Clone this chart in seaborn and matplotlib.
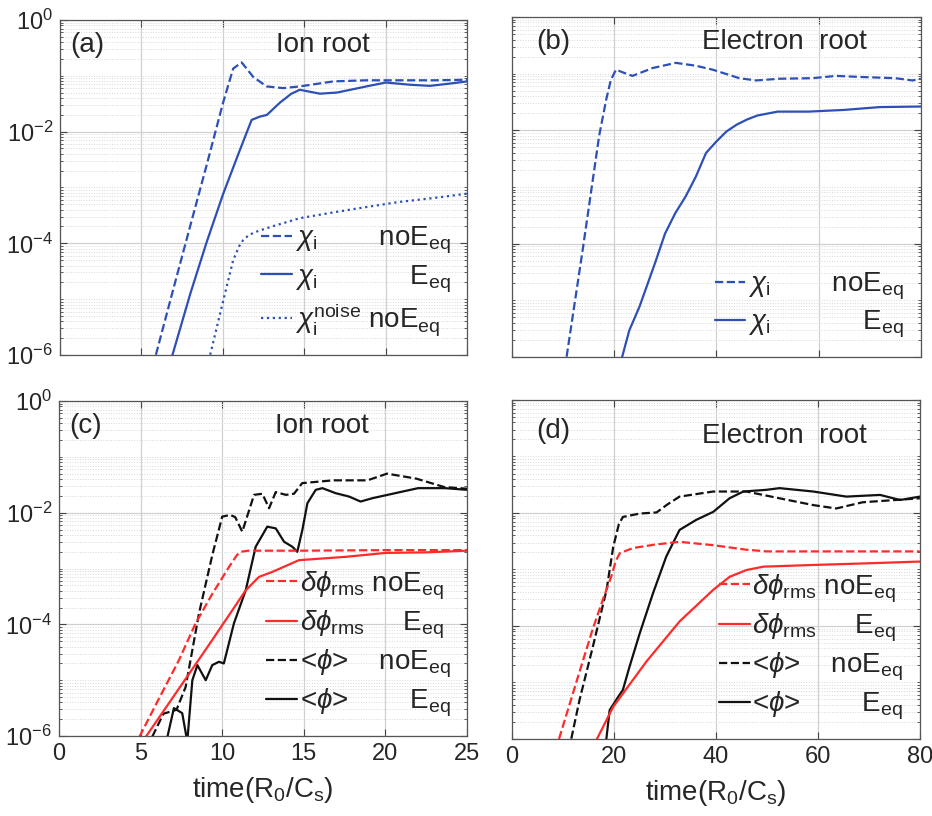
import numpy as np
import pandas as pd
import seaborn as sns
import matplotlib.pyplot as plt
from matplotlib.ticker import LogLocator, LogFormatterMathtext, NullFormatter

sns.set_theme(style="ticks")
plt.rcParams['font.family'] = ['Liberation Sans', 'DejaVu Sans']
plt.rcParams['mathtext.fontset'] = 'custom'
plt.rcParams['mathtext.rm'] = 'Liberation Sans'
plt.rcParams['mathtext.it'] = 'Liberation Sans:italic'
plt.rcParams['mathtext.bf'] = 'Liberation Sans:bold'

BLUE = '#2d50b6'
RED = '#ff2a2a'
BLACK = '#111111'

# ---- data: time and log10 of the quantity ----
# (a) ion root, chi_i
a_noE_t = [5.7, 7.0, 8.0, 9.0, 10.0, 10.63, 11.15, 11.86, 12.68, 13.7, 14.72, 16.77, 18.8, 21.0, 23.0, 25.0]
a_noE_y = [-6.2, -4.77, -3.68, -2.6, -1.49, -0.87, -0.76, -1.02, -1.19, -1.22, -1.19, -1.10, -1.08, -1.08, -1.08, -1.07]
a_E_t = [6.7, 8.0, 9.0, 10.02, 11.0, 11.76, 12.27, 12.7, 13.5, 14.2, 14.72, 15.95, 17.0, 18.8, 20.0, 21.5, 22.7, 23.9, 25.0]
a_E_y = [-6.2, -4.9, -3.98, -3.11, -2.36, -1.79, -1.73, -1.70, -1.48, -1.32, -1.25, -1.32, -1.30, -1.19, -1.12, -1.16, -1.18, -1.14, -1.10]
a_noise_t = [9.05, 10.0, 10.63, 11.0, 11.25, 11.6, 12.07, 13.0, 14.72, 16.7, 18.8, 20.8, 22.9, 25.0]
a_noise_y = [-6.2, -5.05, -4.30, -4.05, -3.94, -3.85, -3.79, -3.70, -3.55, -3.45, -3.35, -3.26, -3.19, -3.11]

# (b) electron root, chi_i
b_noE_t = [10.4, 13.9, 17.1, 18.5, 19.4, 20.4, 21.8, 23.6, 27.6, 32.1, 36.0, 39.3, 44.5, 47.8, 52.3, 58.8, 63.4, 68.6, 75.0, 78.4, 80.0]
b_noE_y = [-6.2, -4.1, -2.1, -1.45, -1.11, -0.93, -0.98, -1.04, -0.90, -0.81, -0.86, -0.93, -1.08, -1.12, -1.09, -1.08, -1.04, -1.06, -1.08, -1.12, -1.09]
b_E_t = [21.0, 23.0, 25.0, 28.0, 30.0, 32.0, 34.0, 36.0, 38.0, 40.0, 42.0, 44.0, 46.0, 48.0, 52.0, 58.0, 65.0, 72.0, 80.0]
b_E_y = [-6.2, -5.53, -5.11, -4.35, -3.82, -3.46, -3.17, -2.82, -2.40, -2.20, -2.02, -1.90, -1.81, -1.74, -1.67, -1.67, -1.64, -1.59, -1.58]

# (c) ion root, potentials
c_rms_noE_t = [4.6, 6.0, 7.35, 8.37, 9.4, 10.42, 10.9, 11.13, 11.6, 14.8, 20.0, 25.0]
c_rms_noE_y = [-6.2, -5.4, -4.64, -3.98, -3.45, -2.97, -2.76, -2.70, -2.68, -2.68, -2.67, -2.67]
c_rms_E_t = [5.0, 7.35, 9.39, 11.44, 12.25, 13.07, 14.7, 17.57, 20.0, 22.5, 25.0]
c_rms_E_y = [-6.15, -5.15, -4.28, -3.39, -3.15, -3.06, -2.85, -2.79, -2.72, -2.71, -2.68]
c_phi_noE_t = [5.4, 6.4, 7.2, 7.76, 8.58, 9.4, 10.0, 10.5, 10.8, 11.23, 11.95, 12.46, 12.87, 13.28, 13.9, 14.4, 14.9, 16.8, 18.9, 20.1, 21.9, 23.6, 25.0]
c_phi_noE_y = [-6.2, -5.6, -5.53, -5.12, -3.80, -2.75, -2.07, -2.04, -2.08, -2.34, -1.68, -1.66, -1.92, -1.63, -1.68, -1.66, -1.47, -1.42, -1.42, -1.30, -1.39, -1.54, -1.57]
c_phi_E_t = [6.5, 7.04, 7.55, 7.86, 8.17, 8.48, 8.99, 9.39, 9.8, 10.1, 10.72, 11.44, 12.05, 12.76, 13.28, 13.79, 14.3, 14.6, 14.91, 15.22, 15.73, 16.14, 16.95, 17.77, 18.48, 19.2, 20.6, 22.0, 23.65, 25.0]
c_phi_E_y = [-6.2, -5.50, -5.59, -6.1, -5.0, -4.73, -5.0, -4.73, -4.67, -4.70, -3.98, -3.39, -2.61, -2.25, -2.28, -2.52, -2.61, -2.70, -2.31, -1.83, -1.59, -1.56, -1.65, -1.71, -1.80, -1.74, -1.65, -1.56, -1.56, -1.59]

# (d) electron root, potentials
d_rms_noE_t = [8.6, 13.3, 15.9, 18.0, 19.5, 20.4, 21.2, 23.8, 28.0, 32.9, 39.5, 46.0, 50.0, 60.0, 80.0]
d_rms_noE_y = [-6.2, -4.81, -4.05, -3.50, -3.13, -2.85, -2.71, -2.62, -2.56, -2.51, -2.57, -2.65, -2.68, -2.68, -2.68]
d_rms_E_t = [15.6, 19.9, 26.4, 32.9, 39.5, 42.7, 46.0, 49.3, 59.1, 70.0, 80.0]
d_rms_E_y = [-6.2, -5.43, -4.63, -3.92, -3.36, -3.13, -3.01, -2.95, -2.92, -2.89, -2.86]
d_phi_noE_t = [11.2, 13.3, 15.9, 18.6, 19.9, 21.0, 21.8, 25.1, 28.4, 30.5, 32.9, 39.5, 46.0, 52.5, 59.1, 63.6, 68.8, 80.0]
d_phi_noE_y = [-6.2, -5.31, -4.37, -3.36, -2.60, -2.20, -2.07, -2.01, -1.99, -1.85, -1.71, -1.62, -1.62, -1.74, -1.86, -1.92, -1.81, -1.74]
d_phi_E_t = [18.3, 19.2, 20.9, 21.8, 23.1, 25.1, 27.7, 30.3, 32.9, 36.2, 39.5, 42.7, 45.4, 49.9, 52.5, 59.1, 65.6, 72.2, 76.1, 80.0]
d_phi_E_y = [-6.2, -5.49, -5.25, -5.13, -4.72, -4.13, -3.42, -2.77, -2.30, -2.12, -1.98, -1.74, -1.62, -1.59, -1.56, -1.62, -1.71, -1.68, -1.77, -1.71]

panel_tags = ['(a)', '(b)', '(c)', '(d)']
panel_titles = ['Ion root', 'Electron  root', 'Ion root', 'Electron  root']
x_ticks_left = [0, 5, 10, 15, 20, 25]
x_ticks_right = [0, 20, 40, 60, 80]

chi = r'$\chi_{\rm i}$'
chin = r'$\chi_{\rm i}^{\rm noise}$'
drms = r'$\delta\phi_{\rm rms}$'
aphi = r'<$\phi$>'
noE = r'noE$_{\rm eq}$'
E = r'E$_{\rm eq}$'

fig = plt.figure(figsize=(9.32, 8.16), dpi=100)
axa = fig.add_axes([0.0644, 0.565, 0.437, 0.4105])
axb = fig.add_axes([0.549, 0.5625, 0.439, 0.4167])
axc = fig.add_axes([0.0633, 0.098, 0.4378, 0.4105])
axd = fig.add_axes([0.549, 0.0944, 0.438, 0.4154])
axes = [axa, axb, axc, axd]


def draw(ax, t, logy, color, ls):
    df = pd.DataFrame({'t': t, 'v': 10.0 ** np.asarray(logy)})
    sns.lineplot(data=df, x='t', y='v', ax=ax, color=color, linestyle=ls,
                 lw=1.6, sort=False, estimator=None)
    return ax.lines[-1]


ha = [draw(axa, a_noE_t, a_noE_y, BLUE, '--'),
      draw(axa, a_E_t, a_E_y, BLUE, '-'),
      draw(axa, a_noise_t, a_noise_y, BLUE, ':')]
hb = [draw(axb, b_noE_t, b_noE_y, BLUE, '--'),
      draw(axb, b_E_t, b_E_y, BLUE, '-')]
hc = [draw(axc, c_phi_noE_t, c_phi_noE_y, BLACK, '--'),
      draw(axc, c_phi_E_t, c_phi_E_y, BLACK, '-'),
      draw(axc, c_rms_noE_t, c_rms_noE_y, RED, '--'),
      draw(axc, c_rms_E_t, c_rms_E_y, RED, '-')]
hd = [draw(axd, d_phi_noE_t, d_phi_noE_y, BLACK, '--'),
      draw(axd, d_phi_E_t, d_phi_E_y, BLACK, '-'),
      draw(axd, d_rms_noE_t, d_rms_noE_y, RED, '--'),
      draw(axd, d_rms_E_t, d_rms_E_y, RED, '-')]

for i, ax in enumerate(axes):
    ax.set_yscale('log')
    ax.set_ylim(1e-6, 1e0)
    left = i in (0, 2)
    ax.set_xlim(0, 25 if left else 80)
    ax.set_xticks(x_ticks_left if left else x_ticks_right)
    ax.yaxis.set_major_locator(LogLocator(base=100, numticks=10))
    ax.yaxis.set_minor_locator(LogLocator(base=10, subs=np.arange(1, 10), numticks=20))
    ax.yaxis.set_minor_formatter(NullFormatter())
    if left:
        ax.yaxis.set_major_formatter(LogFormatterMathtext(base=10))
    else:
        ax.yaxis.set_major_formatter(NullFormatter())
    ax.set_ylabel('')
    if i < 2:
        ax.set_xticklabels([])
        ax.set_xlabel('')
    else:
        ax.set_xlabel(r'time(R$_0$/C$_{\rm s}$)', fontsize=20, labelpad=7)
    ax.grid(which='major', color='#d0d0d0', lw=0.9)
    ax.yaxis.grid(which='minor', color='#d8d8d8', lw=0.7, ls=':')
    ax.set_axisbelow(True)
    ax.tick_params(which='both', direction='in', top=True, right=True,
                   labelsize=17, color='#444444', pad=5)
    ax.tick_params(which='major', length=5, width=0.8)
    ax.tick_params(which='minor', length=2.5, width=0.6)
    for s in ax.spines.values():
        s.set_color('#555555')
        s.set_linewidth(0.9)
    ax.text(0.025 if left else 0.06, 0.925 if i != 3 else 0.91, panel_tags[i],
            transform=ax.transAxes, fontsize=20, va='center', ha='left')
    ax.text(0.645 if left else 0.667, 0.925 if i != 3 else 0.895, panel_titles[i],
            transform=ax.transAxes, fontsize=20, va='center', ha='center')

leg_kw = dict(loc='lower right', frameon=False, fontsize=20, handlelength=1.1,
              handletextpad=0.1, labelspacing=0.25, borderaxespad=0.2)
axa.legend(ha, [chi + '        ' + noE, chi + '            ' + E,
                chin + ' ' + noE], **leg_kw)
axb.legend(hb, [chi + '        ' + noE, chi + '            ' + E], **leg_kw)
labels_cd = [drms + ' ' + noE, drms + '     ' + E,
             aphi + '    ' + noE, aphi + '        ' + E]
order = [2, 3, 0, 1]
axc.legend([hc[k] for k in order], labels_cd, **leg_kw)
axd.legend([hd[k] for k in order], labels_cd, **leg_kw)

fig.savefig('out.png', dpi=100)
